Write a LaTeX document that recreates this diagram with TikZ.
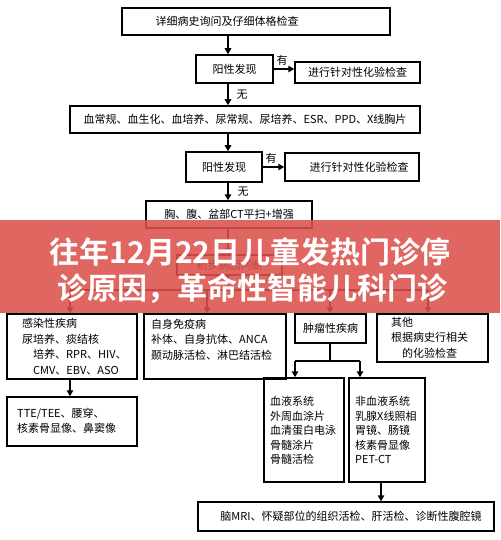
\documentclass[tikz,border=0pt]{standalone}
\usepackage{fontspec}
\setmainfont{Noto Sans CJK SC}
\newfontfamily\bannerfont{Noto Sans CJK SC}[BoldFont={Noto Sans CJK SC Bold}]
\usetikzlibrary{arrows.meta}
\definecolor{bannerred}{RGB}{220,81,77}
\begin{document}
\begin{tikzpicture}[x=1pt,y=-1pt,
  box/.style={draw, line width=1.5pt, inner sep=0pt, font=\fontsize{11}{15}\selectfont},
  txt/.style={inner sep=0pt, align=left, anchor=north west, font=\fontsize{11}{15.5}\selectfont},
  ctxt/.style={inner sep=0pt, font=\fontsize{11}{15}\selectfont},
  arr/.style={line width=2pt, -{Triangle[length=6pt,width=6.5pt]}},
  ln/.style={line width=2pt},
  lab/.style={inner sep=0pt, font=\fontsize{11}{13}\selectfont}]
\useasboundingbox[fill=white] (0,0) rectangle (500,540);
\coordinate (sp) at (228,0);
% top chain
\node[box, minimum width=268pt, minimum height=27pt] (b1) at (256,21.5) {};
\node[ctxt] (t1) at (227,21.5) {详细病史询问及仔细体格检查};
\node[box, minimum width=77pt, minimum height=28pt] (b2) at (234.5,69) {阳性发现};
\node[box, minimum width=125pt, minimum height=21pt] (b3) at (357.5,72.5) {进行针对性化验检查};
\node[box, minimum width=350pt, minimum height=27pt] (b4) at (245,119.5) {血常规、血生化、血培养、尿常规、尿培养、ESR、PPD、X线胸片};
\node[box, minimum width=76pt, minimum height=30pt] (b5) at (224,167) {阳性发现};
\node[box, minimum width=134pt, minimum height=28pt] (b6) at (352,167) {};
\node[ctxt] (t6) at (359,167) {进行针对性化验检查};
\node[box, minimum width=166pt, minimum height=27pt] (b7) at (229,214.5) {胸、腹、盆部CT平扫+增强};
\node[box, minimum width=105pt, minimum height=20pt] (b8) at (229.5,265) {初步病因判断};
\draw[arr] (b1.south -| sp) -- (b2.north -| sp);
\draw[arr] (b2.east) -- (b3.west |- b2.east);
\node[lab] (y1) at (282,60) {有};
\draw[arr] (b2.south -| sp) -- (b4.north -| sp);
\node[lab] (n1) at (242,95) {无};
\draw[arr] (b4.south -| sp) -- (b5.north -| sp);
\draw[arr] (b5.east) -- (b6.west |- b5.east);
\node[lab] (y2) at (271,158) {有};
\draw[arr] (b5.south -| sp) -- (b7.north -| sp);
\node[lab] (n2) at (243,192) {无};
\draw[arr] (b7.south -| sp) -- (b8.north -| sp);
% second row
\node[box, minimum width=130pt, minimum height=65pt] (bA) at (72,346.5) {};
\node[box, minimum width=142pt, minimum height=65pt] (bB) at (215,346.5) {};
\node[box, minimum width=71pt, minimum height=29pt] (bC) at (330.5,328.5) {肿瘤性疾病};
\node[box, minimum width=111pt, minimum height=48pt] (bD) at (432.5,338) {};
\coordinate (bar) at (0,290);
\coordinate (xa) at (70,0);
\coordinate (xb) at (207,0);
\coordinate (xc) at (330,0);
\coordinate (xd) at (428,0);
\draw[ln] (b8.south -| sp) -- (bar -| sp);
\draw[ln] (bar -| xa) -- (bar -| xd);
\draw[arr] (bar -| xa) -- (bA.north -| xa);
\draw[arr] (bar -| xb) -- (bB.north -| xb);
\draw[arr] (bar -| xc) -- (bC.north -| xc);
\draw[arr] (bar -| xd) -- (bD.north -| xd);
\node[txt] (tA) at (22,318.5) {感染性疾病\\尿培养、痰结核\\\hspace*{11pt}培养、RPR、HIV、\\\hspace*{11pt}CMV、EBV、ASO};
\node[txt] (tB) at (151,318.5) {自身免疫病\\补体、自身抗体、ANCA\\颞动脉活检、淋巴结活检};
\node[txt] (tD) at (391,317) {其他\\根据病史行相关\\\hspace*{11pt}的化验检查};
% third row
\node[box, minimum width=130pt, minimum height=49pt] (bH) at (72,421.5) {};
\node[txt] (tH) at (17,407.5) {TTE/TEE、腰穿、\\核素骨显像、鼻窦像};
\draw[arr] (bA.south -| xa) -- (bH.north -| xa);
\node[box, minimum width=80pt, minimum height=104pt] (bE) at (304,430) {};
\node[box, minimum width=76pt, minimum height=104pt] (bF) at (387,430) {};
\node[txt, font=\fontsize{11}{14.5}\selectfont] (tE) at (270,396.5) {血液系统\\外周血涂片\\血清蛋白电泳\\骨髓涂片\\骨髓活检};
\node[txt, font=\fontsize{11}{14.5}\selectfont] (tF) at (355,396.5) {非血液系统\\乳腺X线照相\\胃镜、肠镜\\核素骨显像\\PET-CT};
\coordinate (cbar) at (0,361);
\coordinate (xe) at (295,0);
\coordinate (xf) at (360,0);
\draw[ln] (bC.south -| xc) -- (cbar -| xc);
\draw[ln] (cbar -| xe) -- (cbar -| xf);
\draw[arr] (cbar -| xe) -- (bE.north -| xe);
\draw[arr] (cbar -| xf) -- (bF.north -| xf);
\node[box, minimum width=296pt, minimum height=29pt] (bG) at (346,516.5) {};
\node[ctxt] (tG) at (351,516.5) {脑MRI、怀疑部位的组织活检、肝活检、诊断性腹腔镜};
\coordinate (xg) at (381,0);
\draw[arr] (bF.south -| xg) -- (bG.north -| xg);
% banner overlay
\fill[bannerred, fill opacity=0.88] (0,220) rectangle (500,313);
\node[inner sep=0pt, text=white, font=\bannerfont\bfseries\fontsize{30}{36}\selectfont] (h1) at (250,252) {往年12月22日儿童发热门诊停};
\node[inner sep=0pt, text=white, font=\bannerfont\bfseries\fontsize{30}{36}\selectfont] (h2) at (252,289) {诊原因，革命性智能儿科门诊};
\end{tikzpicture}
\end{document}
